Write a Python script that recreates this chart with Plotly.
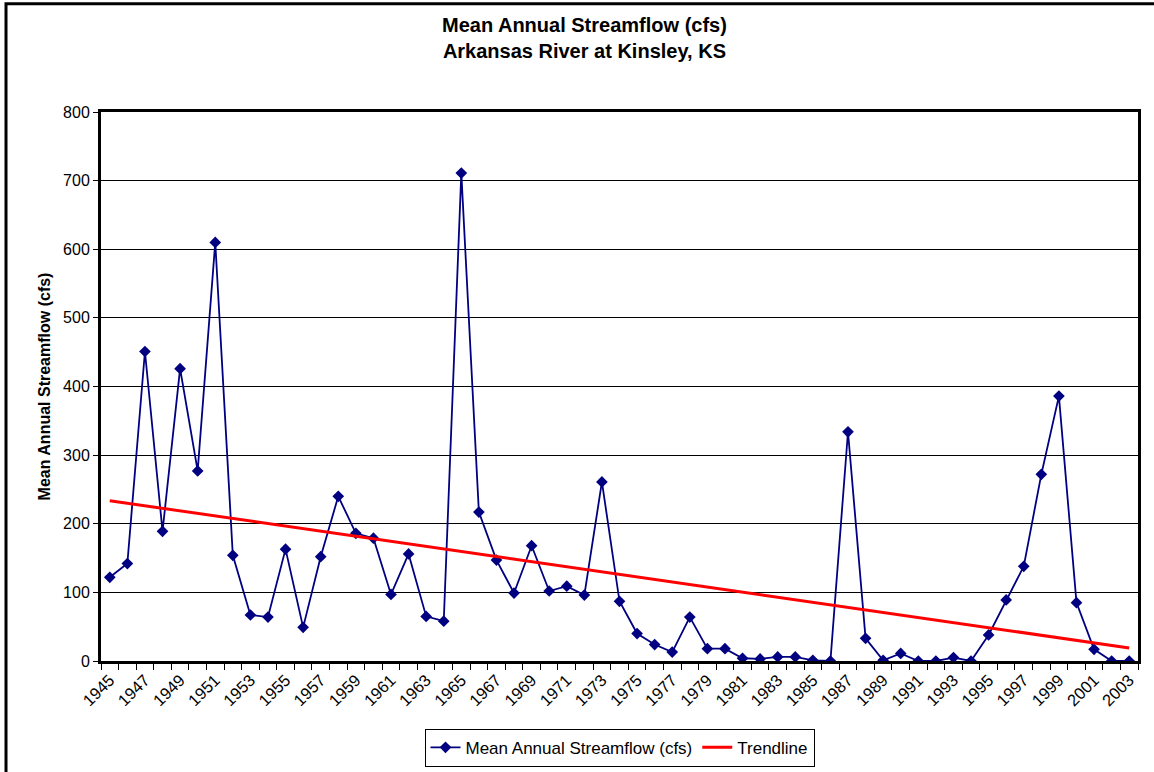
import numpy as np
import plotly.graph_objects as go

years = list(range(1945, 2004))
flow = [122, 142, 451, 189, 426, 277, 610, 154, 67, 64,
        163, 49, 152, 240, 186, 179, 97, 156, 65, 58,
        711, 217, 147, 99, 168, 102, 109, 96, 261, 87,
        40, 24, 13, 64, 18, 18, 4, 3, 6, 6,
        1, 0, 334, 33, 1, 11, 0, 0, 5, 0,
        38, 89, 138, 272, 386, 85, 17, 0, 0]
tick_years = years[::2]
tick_text = [str(y) for y in tick_years]

slope, intercept = np.polyfit(years, flow, 1)
trend = [slope * y + intercept for y in years]

fig = go.Figure()
fig.add_trace(go.Scatter(
    x=years, y=flow, mode="lines+markers",
    name="Mean Annual Streamflow (cfs)",
    line=dict(color="#000080", width=1.8),
    marker=dict(symbol="diamond", size=9, color="#000080"),
))
fig.add_trace(go.Scatter(
    x=years, y=trend, mode="lines", name="Trendline",
    line=dict(color="#FF0000", width=3),
))

fig.update_layout(
    width=1154, height=772,
    margin=dict(l=101, r=16, t=112, b=111, autoexpand=False),
    paper_bgcolor="white", plot_bgcolor="white",
    font=dict(family="Liberation Sans, Arial, sans-serif", size=16, color="black"),
    xaxis=dict(
        range=[1944.5, 2003.5], automargin=False,
        tickmode="array", tickvals=tick_years, ticktext=tick_text,
        tickangle=-45, ticks="", showgrid=False, zeroline=False,
        showline=True, linewidth=3, linecolor="black", mirror=True,
        tickfont=dict(size=16.5),
        minor=dict(ticks="outside", ticklen=6, tickwidth=1, tickcolor="black",
                   tick0=1944.5, dtick=1, showgrid=False),
    ),
    yaxis=dict(
        range=[0, 800], dtick=100, tick0=0, automargin=False,
        showgrid=True, gridcolor="black", gridwidth=1, zeroline=False,
        ticks="outside", ticklen=5, tickcolor="black",
        showline=True, linewidth=3, linecolor="black", mirror=True,
        title=dict(text="<b>Mean Annual Streamflow (cfs)</b>", font=dict(size=16), standoff=9),
    ),
    legend=dict(
        orientation="h", x=0.5, xanchor="center", y=-0.158, yanchor="middle",
        bordercolor="black", borderwidth=1, bgcolor="white",
        font=dict(size=17),
    ),
    annotations=[dict(
        text="<b>Mean Annual Streamflow (cfs)<br>Arkansas River at Kinsley, KS</b>",
        xref="paper", yref="paper", x=0.4658, y=1.1348,
        xanchor="center", yanchor="middle", showarrow=False,
        font=dict(size=20, color="black"),
    )],
    shapes=[dict(type="rect", xref="paper", yref="paper",
                 x0=-0.0916, x1=1.03, y0=-0.25, y1=1.197,
                 line=dict(color="black", width=3))],
)

fig.write_html("out.html", config={"displayModeBar": False},
               post_script="document.body.style.margin='0';")
